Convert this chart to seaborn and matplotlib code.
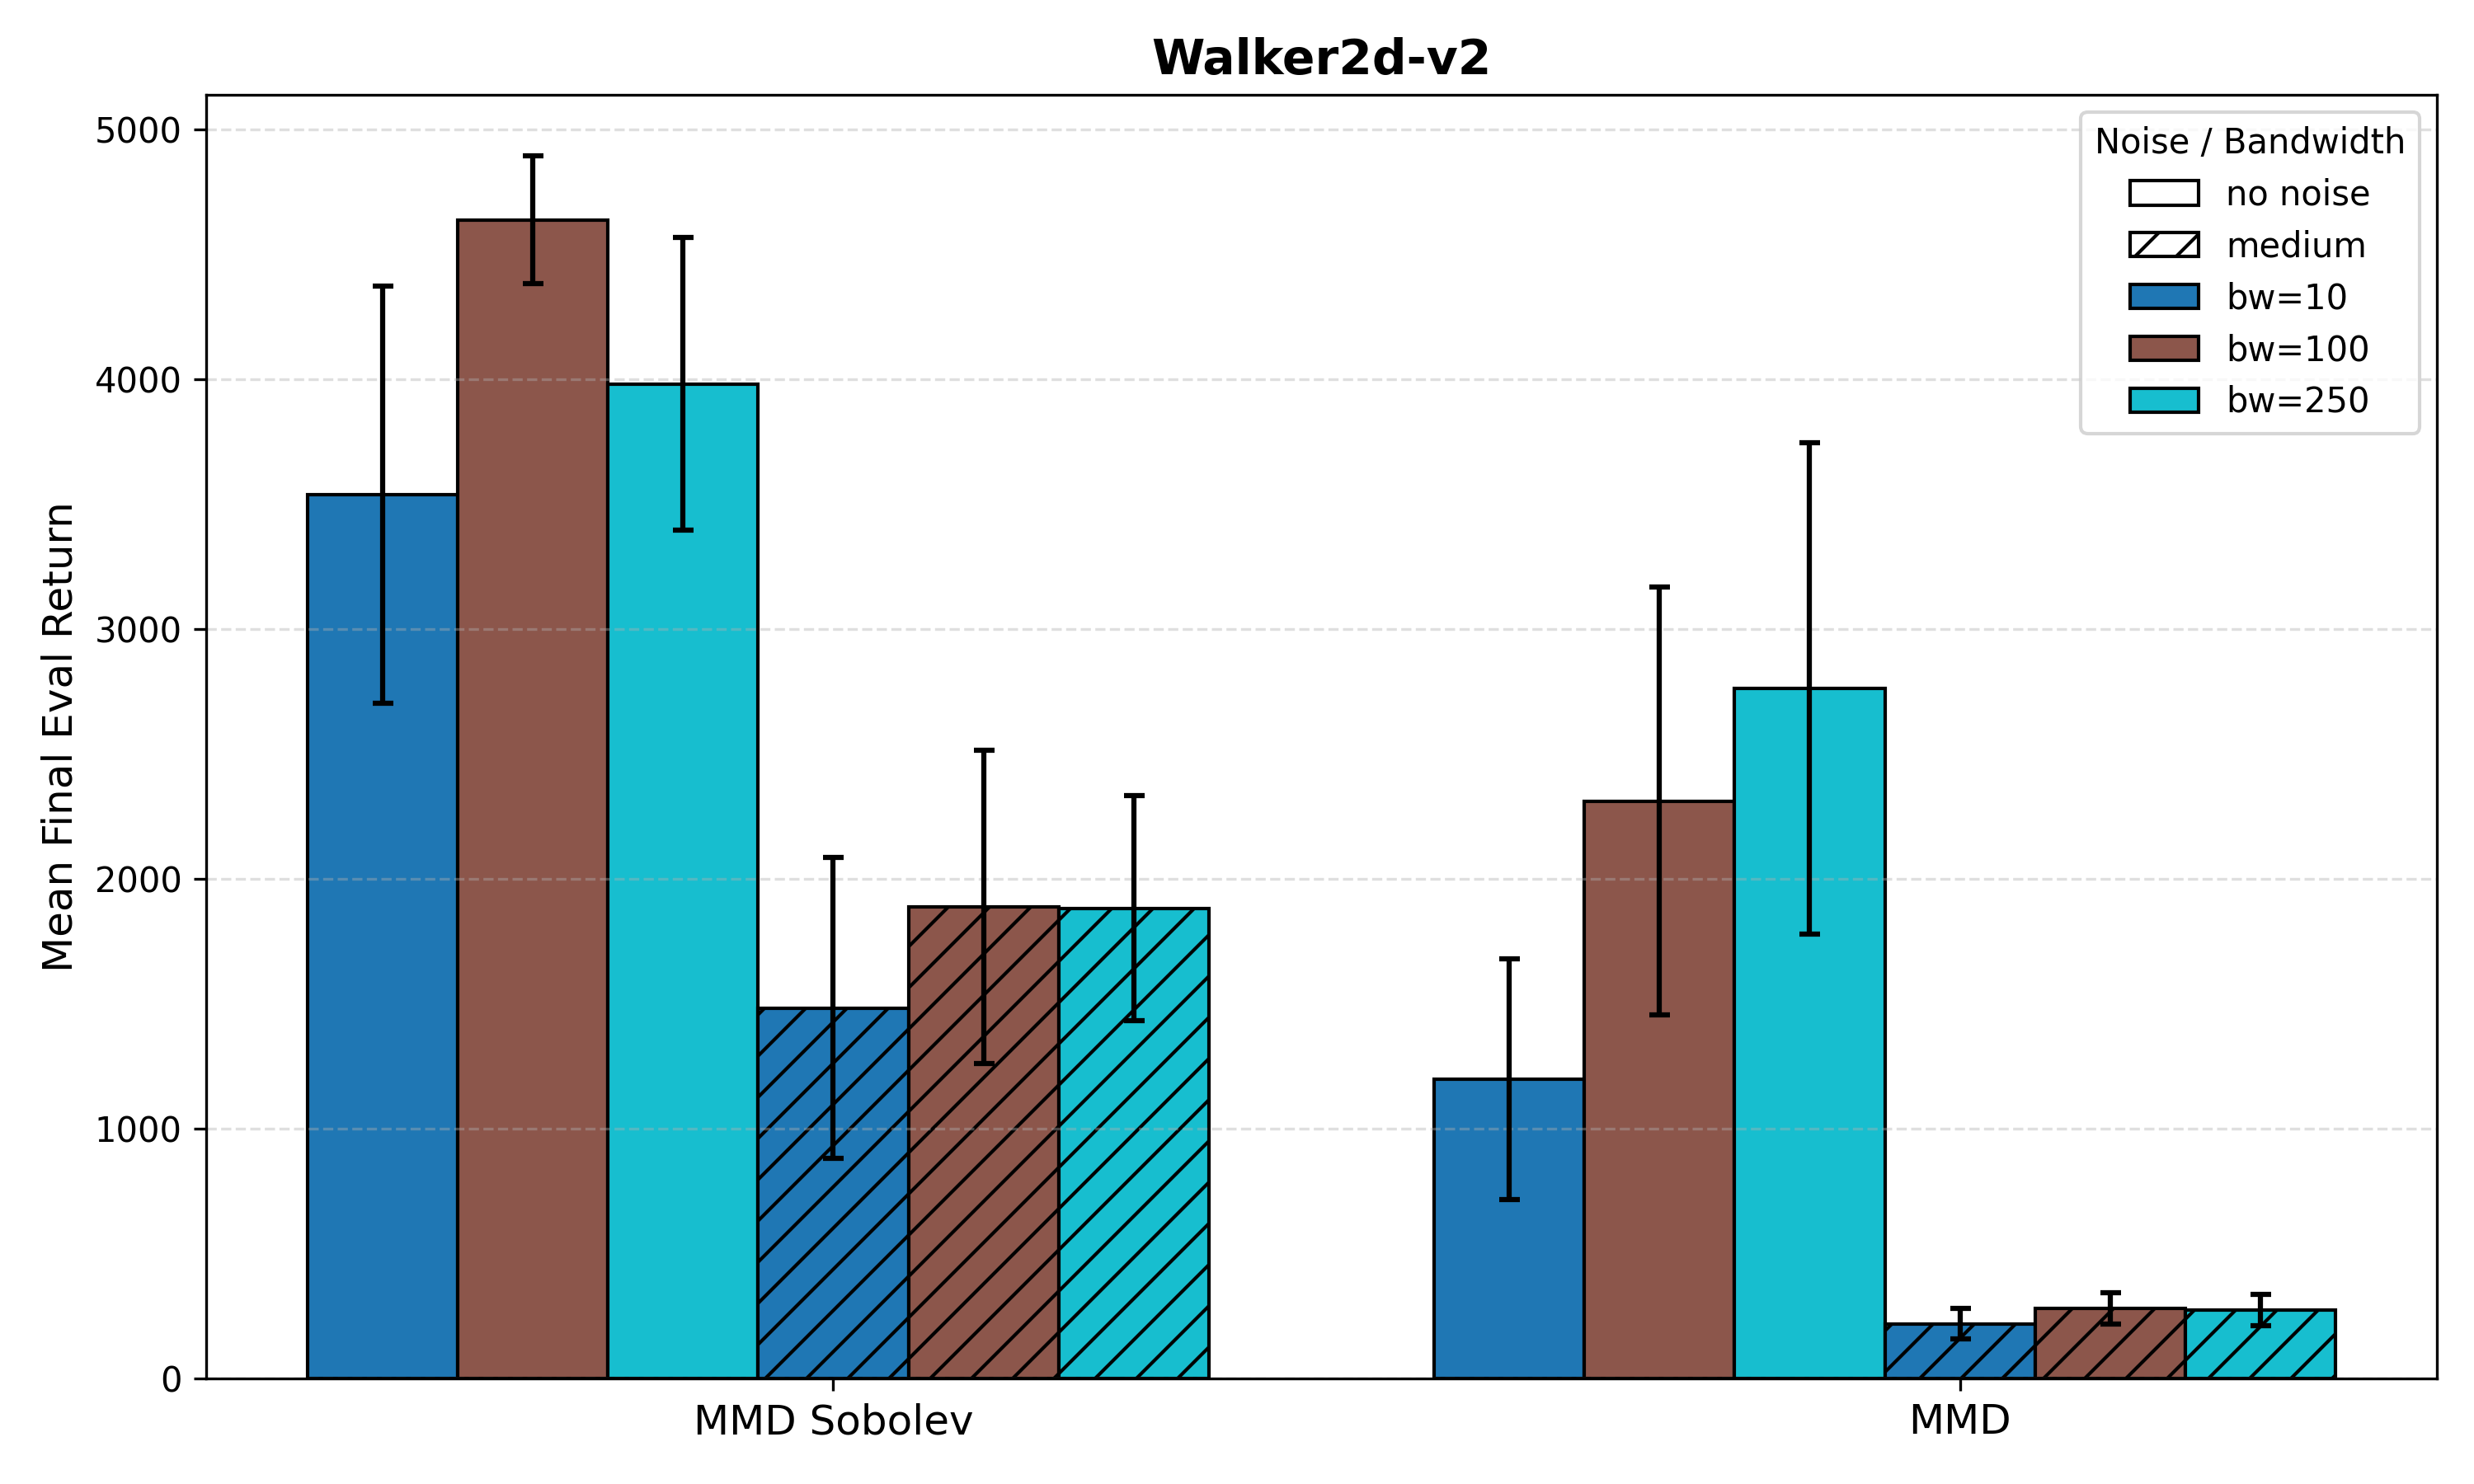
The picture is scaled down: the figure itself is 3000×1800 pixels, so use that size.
import matplotlib
matplotlib.use("Agg")
import matplotlib.pyplot as plt
from matplotlib.patches import Patch
import pandas as pd
import seaborn as sns

# values
methods = ["MMD Sobolev", "MMD"]
noise_levels = ["no noise", "medium"]
bandwidths = ["bw=10", "bw=100", "bw=250"]
bw_colors = ["#1f77b4", "#8c564b", "#17becf"]

# order: no noise bw10/100/250, then medium bw10/100/250
mean_sobolev = [3537, 4637, 3981, 1483, 1887, 1882]
std_sobolev = [836, 256, 585, 601, 626, 450]
mean_mmd = [1198, 2311, 2762, 219, 280, 274]
std_mmd = [483, 857, 982, 60, 62, 62]

combos = [f"{n}|{b}" for n in noise_levels for b in bandwidths]
rows = []
for method, means, stds in [("MMD Sobolev", mean_sobolev, std_sobolev),
                            ("MMD", mean_mmd, std_mmd)]:
    for combo, m, s in zip(combos, means, stds):
        rows.append({"method": method, "combo": combo, "mean": m, "std": s})
df = pd.DataFrame(rows)

fig, ax = plt.subplots(figsize=(10, 6), dpi=300)

palette = {c: bw_colors[bandwidths.index(c.split("|")[1])] for c in combos}
sns.barplot(data=df, x="method", y="mean", hue="combo", order=methods,
            hue_order=combos, palette=palette, saturation=1, width=0.8,
            edgecolor="black", linewidth=1.0, errorbar=None, legend=False, ax=ax)

# hatch the medium-noise bars and add the std error bars
xs, ys, es = [], [], []
for combo, cont in zip(combos, ax.containers):
    noise = combo.split("|")[0]
    for method, bar in zip(methods, cont):
        if noise == "medium":
            bar.set_hatch("//")
        row = df[(df["method"] == method) & (df["combo"] == combo)].iloc[0]
        xs.append(bar.get_x() + bar.get_width() / 2)
        ys.append(row["mean"])
        es.append(row["std"])
ax.errorbar(xs, ys, yerr=es, fmt="none", ecolor="black", elinewidth=1.5,
            capsize=3, capthick=1.5)

w = 0.8 / len(combos)
ax.set_xticks([i + w / 2 for i in range(len(methods))])
ax.set_xticklabels(methods, fontsize=12)
ax.set_xlim(-0.49, 1.49)
ax.set_ylim(0, 5137)
ax.set_xlabel("")
ax.set_ylabel("Mean Final Eval Return", fontsize=12)
ax.set_title("Walker2d-v2", fontsize=14, fontweight="bold")
ax.grid(axis="y", linestyle="--", alpha=0.4)

handles = [Patch(facecolor="white", edgecolor="black", label="no noise"),
           Patch(facecolor="white", edgecolor="black", hatch="//", label="medium")]
handles += [Patch(facecolor=c, edgecolor="black", label=b)
            for b, c in zip(bandwidths, bw_colors)]
ax.legend(handles=handles, title="Noise / Bandwidth", loc="upper right")

fig.subplots_adjust(left=0.0833, right=0.985, bottom=0.0711, top=0.936)
fig.savefig("out.png")
plt.close(fig)
